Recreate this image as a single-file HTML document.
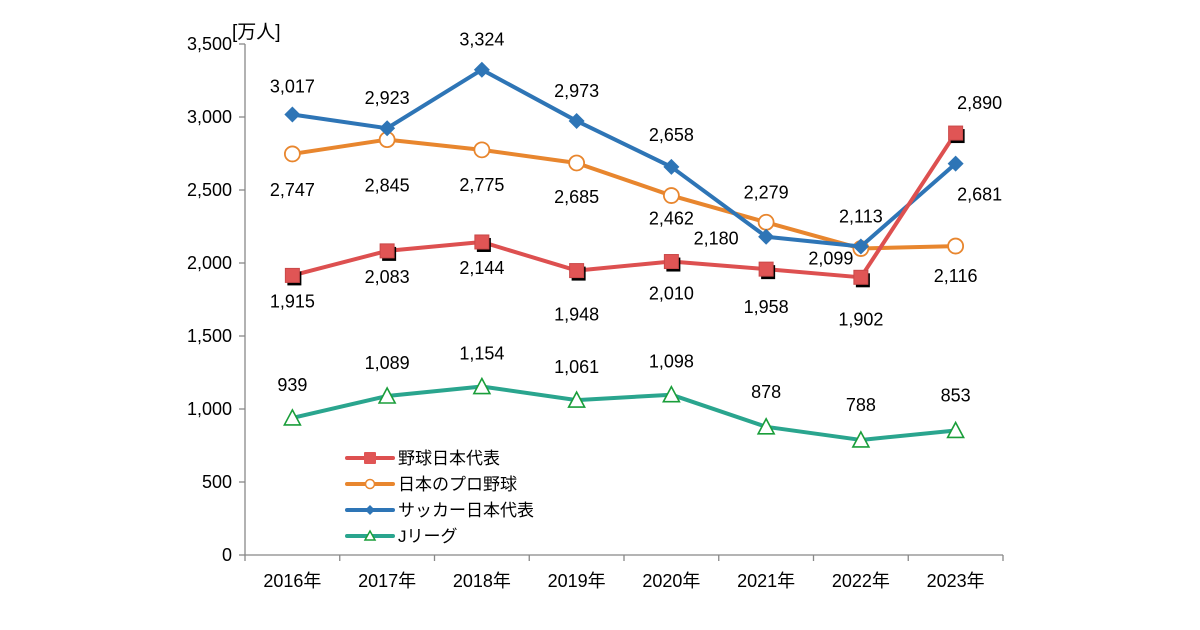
<!DOCTYPE html>
<html><head><meta charset="utf-8"><style>
body{margin:0;background:#fff;}
svg{display:block;font-family:"Liberation Sans","Noto Sans CJK JP",sans-serif;}
</style></head><body>
<svg id="c" width="1200" height="630"></svg>
<script>
const categories=["2016年","2017年","2018年","2019年","2020年","2021年","2022年","2023年"];
const baseballJapan=[1915,2083,2144,1948,2010,1958,1902,2890];
const proBaseball=[2747,2845,2775,2685,2462,2279,2099,2116];
const soccerJapan=[3017,2923,3324,2973,2658,2180,2113,2681];
const jLeague=[939,1089,1154,1061,1098,878,788,853];
const yTicks=[0,500,1000,1500,2000,2500,3000,3500];
const seriesNames=["野球日本代表","日本のプロ野球","サッカー日本代表","Jリーグ"];

const NS="http://www.w3.org/2000/svg";
const svg=document.getElementById('c');
const X0=245,X1=1003,Y0=555,Y1=44;
const bw=(X1-X0)/categories.length;
const xS=i=>X0+bw*(i+0.5);
const yS=v=>Y0-(v/3500)*(Y0-Y1);
function mk(t,a,p){const e=document.createElementNS(NS,t);for(const k in a)e.setAttribute(k,a[k]);(p||svg).appendChild(e);return e;}
const fmt=v=>v.toLocaleString('en-US');

const ax=mk('path',{d:`M${X0},${Y1}V${Y0}H${X1}`,fill:'none',stroke:'#888','stroke-width':1.3});


yTicks.forEach(v=>{
  const y=yS(v);
  const t=mk('line',{x1:X0-6,x2:X0,y1:y,y2:y,stroke:'#888','stroke-width':1.3});
  
  
  const l=mk('text',{x:X0-13,y:y+6,'text-anchor':'end','font-size':18,fill:'#000'});
  l.textContent=fmt(v);
  
  
});
for(let i=0;i<=categories.length;i++){
  const x=X0+bw*i;
  const t=mk('line',{x1:x,x2:x,y1:Y0,y2:Y0+6,stroke:'#888','stroke-width':1.3});
  
  
}
categories.forEach((c,i)=>{
  const l=mk('text',{x:xS(i),y:Y0+32,'text-anchor':'middle','font-size':18,fill:'#000'});
  l.textContent=c;
  
  
});
const ut=mk('text',{x:232,y:38,'font-size':19,fill:'#000'});
ut.textContent='[万人]';



const offRed=[[0,26],[0,26],[0,26],[0,44],[0,32],[0,38],[0,42],[24,-30]];
const offOrg=[[0,36],[0,46],[0,35],[0,34],[0,23],[0,-30],[-30,10],[0,30]];
const offBlu=[[0,-28],[0,-30],[0,-30],[0,-30],[0,-32],[-50,2],[0,-30],[24,31]];
const offJ=[[0,-33],[0,-33],[0,-33],[0,-33],[0,-33],[0,-35],[0,-35],[0,-35]];

function marker(kind,x,y,g){
  if(kind==='sq'){
    mk('rect',{x:x-5,y:y-4,width:14,height:14,fill:'#000'},g);
    mk('rect',{x:x-7,y:y-7,width:14,height:14,fill:'#e05555',stroke:'#c94848','stroke-width':1},g);
  }else if(kind==='ci'){
    mk('circle',{cx:x,cy:y,r:7.5,fill:'#fff',stroke:'#e8862e','stroke-width':1.8},g);
  }else if(kind==='di'){
    mk('path',{d:`M${x},${y-8}L${x+8},${y}L${x},${y+8}L${x-8},${y}Z`,fill:'#2e75b6'},g);
  }else{
    mk('path',{d:`M${x},${y-8}L${x+8},${y+7}L${x-8},${y+7}Z`,fill:'#fff',stroke:'#1a9e3a','stroke-width':1.6},g);
  }
}
const series=[
  {name:'proBaseball',data:proBaseball,color:'#e8862e',kind:'ci',off:offOrg},
  {name:'jLeague',data:jLeague,color:'#2aa58e',kind:'tr',off:offJ},
  {name:'soccerJapan',data:soccerJapan,color:'#2e75b6',kind:'di',off:offBlu},
  {name:'baseballJapan',data:baseballJapan,color:'#dd5050',kind:'sq',off:offRed},
];
series.forEach(s=>{
  const g=mk('g',{});
  
  
  const ln=mk('polyline',{points:s.data.map((v,i)=>xS(i)+','+yS(v)).join(' '),fill:'none',stroke:s.color,'stroke-width':4,'stroke-linejoin':'round'},g);
  
  
  s.data.forEach((v,i)=>{
    const mg=mk('g',{},g);
    
    
    marker(s.kind,xS(i),yS(v),mg);
  });
});
series.forEach(s=>{
  s.data.forEach((v,i)=>{
    const l=mk('text',{x:xS(i)+s.off[i][0],y:yS(v)+s.off[i][1]+6,'text-anchor':'middle','font-size':18,fill:'#000'});
    l.textContent=fmt(v);
    
    
  });
});

const legKinds=['sq','ci','di','tr'];
const legColors=['#dd5050','#e8862e','#2e75b6','#2aa58e'];
seriesNames.forEach((n,i)=>{
  const y=458+i*26;
  const g=mk('g',{});
  
  
  mk('line',{x1:347,x2:393,y1:y,y2:y,stroke:legColors[i],'stroke-width':4,'stroke-linecap':'round'},g);
  const mx=370;
  if(legKinds[i]==='sq') mk('rect',{x:mx-6,y:y-6,width:12,height:12,fill:'#e05555',rx:1},g);
  else if(legKinds[i]==='ci') mk('circle',{cx:mx,cy:y,r:4.5,fill:'#fff',stroke:'#e8862e','stroke-width':1.5},g);
  else if(legKinds[i]==='di') mk('path',{d:`M${mx},${y-5}L${mx+5},${y}L${mx},${y+5}L${mx-5},${y}Z`,fill:'#2e75b6'},g);
  else mk('path',{d:`M${mx},${y-5}L${mx+5},${y+4}L${mx-5},${y+4}Z`,fill:'#fff',stroke:'#1a9e3a','stroke-width':1.5},g);
  const t=mk('text',{x:398,y:y+6,'font-size':17,fill:'#000'},g);
  t.textContent=n;
});
</script>
</body></html>
